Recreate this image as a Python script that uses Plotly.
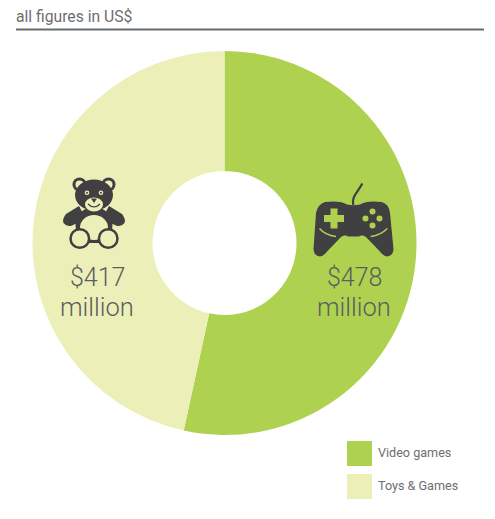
import plotly.graph_objects as go

W, H = 495, 519

categories = ["Video games", "Toys & Games"]
values_musd = [478, 417]
colors = ["#aed250", "#ecf0b8"]
DARK = "#403f41"
TEXT = "#6d6e71"
CAPTION = "#5c5d60"
FONT = "Roboto, sans-serif"

# Ring geometry in page pixels
cx, cy, radius = 224.5, 243, 192
domain = dict(x=[(cx - radius) / W, (cx + radius) / W],
              y=[1 - (cy + radius) / H, 1 - (cy - radius) / H])

fig = go.Figure(go.Pie(
    labels=categories, values=values_musd, hole=0.375, sort=False,
    direction="clockwise", rotation=0, domain=domain,
    marker=dict(colors=colors, line=dict(width=0)),
    textinfo="none", showlegend=False,
))


def path(d, fill=DARK, line=None, width=0):
    return dict(type="path", path=d, xref="x", yref="y", layer="above",
                fillcolor=fill, line=dict(color=line or "rgba(0,0,0,0)", width=width))


def ellipse(x, y, rx, ry, fill=DARK, line=None, width=0):
    return dict(type="circle", x0=x - rx, x1=x + rx, y0=y - ry, y1=y + ry,
                xref="x", yref="y", layer="above", fillcolor=fill,
                line=dict(color=line or "rgba(0,0,0,0)", width=width))


shapes = [
    # Rule under the heading
    dict(type="line", x0=16, x1=484, y0=29.5, y1=29.5, xref="x", yref="y",
         line=dict(color="#666b6e", width=2)),
]

# Teddy bear icon
bear_cx = 94
light = colors[1]
for side in (-1, 1):
    shapes += [
        ellipse(bear_cx + side * 14.5, 184.5, 7, 7),
        ellipse(bear_cx + side * 14.5, 184.5, 4, 4, fill=light),
        # Arm
        path(f"M {bear_cx + side*15} 206 L {bear_cx + side*28} 214 "
             f"Q {bear_cx + side*32} 219 {bear_cx + side*30.5} 223 "
             f"Q {bear_cx + side*27} 227.5 {bear_cx + side*22} 225.5 "
             f"L {bear_cx + side*8} 219 Z"),
    ]
shapes += [
    ellipse(bear_cx, 225, 18.5, 18),
    ellipse(bear_cx, 195, 19, 15.5),
    ellipse(bear_cx, 227.5, 14, 12.5, fill=light),
    ellipse(bear_cx, 204.5, 9, 7, fill=light),
    # Bar joining the feet
    dict(type="rect", x0=bear_cx - 6, x1=bear_cx + 6, y0=240.5, y1=243, xref="x", yref="y",
         layer="above", fillcolor=DARK, line=dict(width=0)),
]
for side in (-1, 1):
    shapes += [
        ellipse(bear_cx + side * 7, 192.7, 2.3, 2.3, fill=light),
        ellipse(bear_cx + side * 7, 192.7, 1, 1),
        ellipse(bear_cx + side * 14.2, 238.5, 9.3, 9.3, fill=light, line=DARK, width=2.5),
    ]
shapes += [
    path(f"M {bear_cx-3} 198.5 L {bear_cx+3} 198.5 L {bear_cx} 203 Z"),
    path(f"M {bear_cx-6} 204 Q {bear_cx} 210 {bear_cx+6} 204", fill="rgba(0,0,0,0)", line=DARK, width=1.2),
]

# Game controller icon
pad_green = colors[0]
shapes += [
    path("M 353.3 205 C 351 197 358 192 362.3 183.5", fill="rgba(0,0,0,0)", line=DARK, width=2.2),
    path("M 325 202 Q 340 200 347 204.5 Q 353.3 206 360 204.5 Q 367 200 381.7 202 "
         "Q 389 204 390 213 L 393.5 249 Q 393 256 387 256.5 Q 383 256 379 250.5 "
         "L 366 237 Q 362 234.5 359 236.5 L 348 236.5 Q 345 234.5 341 237 "
         "L 328 250.5 Q 324 256 320 256.5 Q 314 256 313.5 249 L 316 213 Q 318 204 325 202 Z"),
    path("M 330.5 208.5 H 337.5 V 215 H 344 V 222 H 337.5 V 228.5 H 330.5 V 222 H 324 V 215 H 330.5 Z",
         fill=pad_green),
    path("M 319.5 228.5 Q 325 235 336 236.5", fill="rgba(0,0,0,0)", line=pad_green, width=1.5),
    path("M 387.3 228.5 Q 381 235 370.7 236.5", fill="rgba(0,0,0,0)", line=pad_green, width=1.5),
]
for dx, dy in ((0, -7), (0, 7), (-7, 0), (7, 0)):
    shapes.append(ellipse(372.5 + dx, 218.5 + dy, 3, 3, fill=pad_green))

annotations = [
    dict(text="all figures in US$", x=14, y=16, xanchor="left", yanchor="middle",
         showarrow=False, font=dict(family=FONT, size=15.7, color=TEXT)),
]

# Value captions on the ring
for value, x in zip(values_musd, (97, 354)[::-1]):
    annotations += [
        dict(text=f"${value}", x=x, y=277, showarrow=False, yanchor="middle",
             font=dict(family=FONT, size=25, color=CAPTION, weight=300)),
        dict(text="million", x=x, y=307, showarrow=False, yanchor="middle",
             font=dict(family=FONT, size=25.5, color=CAPTION, weight=300)),
    ]

# Key at the lower right
for name, colour, top in zip(categories, colors, (441, 474)):
    shapes.append(dict(type="rect", x0=347, x1=372, y0=top, y1=top + 25, xref="x", yref="y",
                       fillcolor=colour, line=dict(width=0)))
    annotations.append(dict(text=name, x=376, y=top + 11.5, xanchor="left", yanchor="middle",
                            showarrow=False, font=dict(family=FONT, size=12.6, color=TEXT)))

fig.update_layout(
    width=W, height=H, margin=dict(l=0, r=0, t=0, b=0),
    paper_bgcolor="white", plot_bgcolor="rgba(0,0,0,0)",
    xaxis=dict(range=[0, W], visible=False, domain=[0, 1], fixedrange=True),
    yaxis=dict(range=[H, 0], visible=False, domain=[0, 1], fixedrange=True),
    shapes=shapes, annotations=annotations,
)
fig.write_html("out.html", config=dict(displayModeBar=False))
